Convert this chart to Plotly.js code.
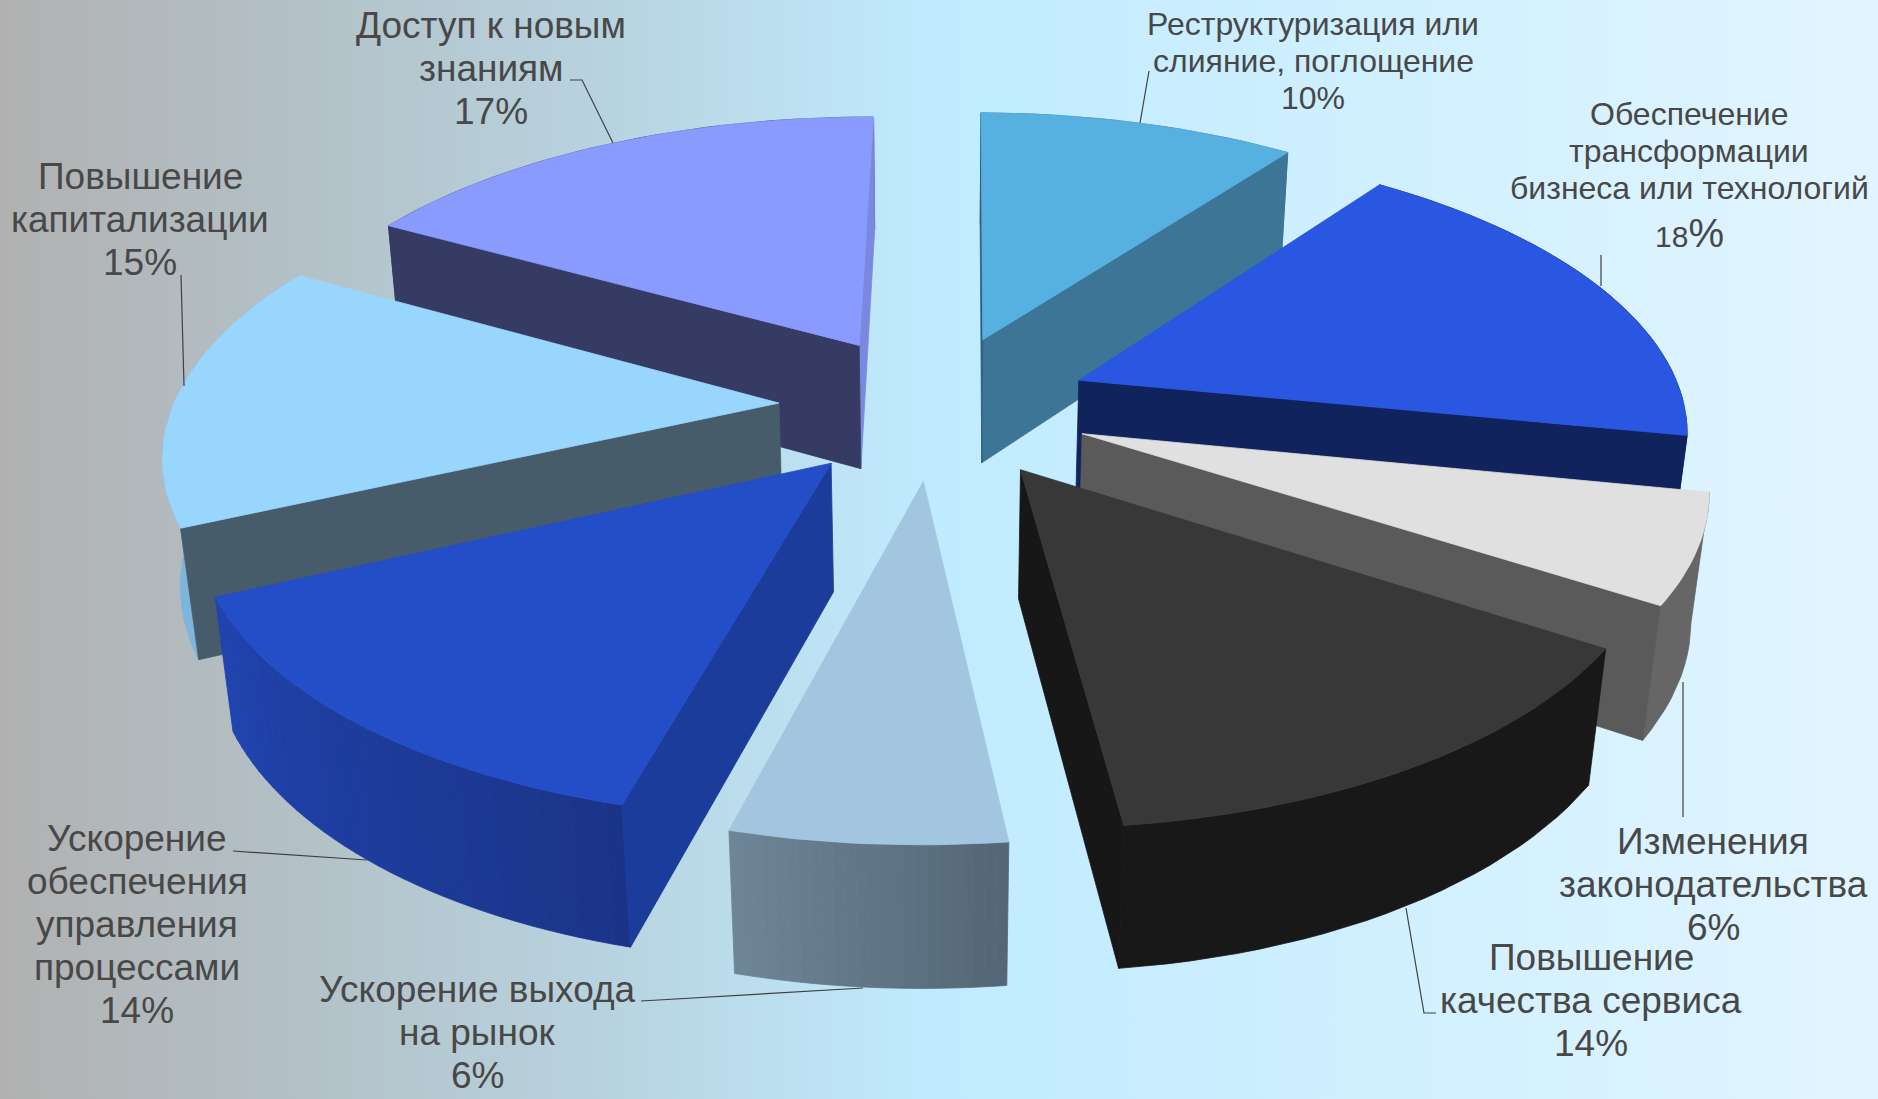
<!DOCTYPE html>
<html><head><meta charset="utf-8">
<script src="https://cdn.plot.ly/plotly-3.0.1.min.js"></script>
<style>
html,body{margin:0;padding:0;width:1878px;height:1099px;overflow:hidden}
body{background:linear-gradient(90deg,#b1b1b1 0px,#b3c1c7 300px,#b8d4e1 620px,#c0ebff 940px,#e2f5ff 1878px)}
#chart{width:1878px;height:1099px}
</style></head><body><div id="chart"></div>
<script>
// Data
const categories = [
  ["Реструктуризация или","слияние, поглощение"],
  ["Обеспечение","трансформации","бизнеса или технологий"],
  ["Изменения","законодательства"],
  ["Повышение","качества сервиса"],
  ["Ускорение выхода","на рынок"],
  ["Ускорение","обеспечения","управления","процессами"],
  ["Повышение","капитализации"],
  ["Доступ к новым","знаниям"]
];
const values = [10,18,6,14,6,14,15,17];
const valueLabels = ["10%",'<span style="font-size:30px">18</span><span style="font-size:40px">%</span>',"6%","14%","6%","14%","15%","17%"];

// Styles
const topColors  = ["#56b0e0","#2a57e1","#e0e0e0","#383838","#a2c6e0","#244dc8","#99d6fe","#8a9bff"];
const wallStart  = ["#2f5f7b","#11235c","#5a5a5a","#171717","#536675","#1c3c9c","#465c6b","#353b63"];
const wallEnd    = ["#3c7595","#11235c","#5a5a5a","#171717","#6e8698","#1c3c9c","#7db6da","#7a88e0"];
const arcFrom    = ["#3c7595","#11235c","#666666","#181818","#536675","#1a3488","#7db6da","#353b63"];
const arcTo      = ["#3c7595","#11235c","#666666","#181818","#6e8698","#2044b0","#7db6da","#353b63"];
const labelSizes = [32,32,37,37,37,37,37,37];
const lineSteps  = [37,37,43,43,43,43,43,43];
const labelX     = [1313,1689,1713,1591,477,137,140,491];
const labelTop   = [24,114,841,957,989,838,176,25];
const valueGap   = [0,8,0,0,0,0,0,0];
const leaders = [
  [[1149,71],[1140,123]],
  [[1601,255],[1601,286]],
  [[1683,682],[1683,817]],
  [[1406,908],[1424,1013],[1436,1013]],
  [[641,1001],[863,988]],
  [[233,851],[367,860]],
  [[181,275],[184,386]],
  [[570,80],[582,80],[613,143]]
];
const paintOrder = [7,0,1,6,2,5,3,4];

// Camera / pie geometry
const cam = {cx:935, cy:406, A:606, B:281, H:129, a:0.155, b:0.023, explode:0.258, rotation:0.5*Math.PI/180};
function project(X,Y,Z){
  const d = 1 + cam.a*Y + cam.b*Z;
  return [cam.cx + cam.A*X/d, cam.cy + (-cam.B*Y + cam.H*Z)/d];
}
function hex(c){return [1,3,5].map(i=>parseInt(c.substr(i,2),16));}
function mix(c1,c2,t){const a=hex(c1),b=hex(c2);
  return 'rgb('+a.map((v,i)=>Math.round(v+(b[i]-v)*t)).join(',')+')';}
function area(p){let s=0;p.forEach((q,i)=>{const r=p[(i+1)%p.length];s+=q[0]*r[1]-r[0]*q[1];});return s;}

const total = values.reduce((s,v)=>s+v,0);
const slices = []; let acc = 0;
values.forEach((v,i)=>{const t0=cam.rotation+acc/total*2*Math.PI; acc+=v; const t1=cam.rotation+acc/total*2*Math.PI;
  slices.push({i,t0,t1,mid:(t0+t1)/2});});

function poly(pts,color,name){
  const xs=pts.map(p=>p[0]),ys=pts.map(p=>p[1]);
  xs.push(xs[0]);ys.push(ys[0]);
  return {type:'scatter',mode:'lines',x:xs,y:ys,fill:'toself',fillcolor:color,
    line:{color:color,width:0.8},hoverinfo:name?'text':'skip',text:name||'',hoveron:'fills',showlegend:false};
}
const traces=[];
paintOrder.forEach(i=>{
  const s=slices[i];
  const ox=cam.explode*Math.sin(s.mid), oy=cam.explode*Math.cos(s.mid);
  const P=(th,z)=>project(ox+Math.sin(th),oy+Math.cos(th),z);
  const C=z=>project(ox,oy,z);
  const sweep=s.t1-s.t0;
  const flat=arcFrom[i]===arcTo[i];
  const n=flat?1:Math.max(24,Math.round(sweep*40));
  const sub=flat?Math.round(sweep*30):2;
  for(let k=0;k<n;k++){
    const a=s.t0+sweep*k/n,b=s.t0+sweep*(k+1)/n;
    const upper=[],lower=[];
    for(let j=0;j<=sub;j++){const t=a+(b-a)*j/sub;upper.push(P(t,0));lower.unshift(P(t,1));}
    traces.push(poly(upper.concat(lower),mix(arcFrom[i],arcTo[i],(k+.5)/n)));
  }
  // cut walls: only those facing the camera
  const w0=[C(0),P(s.t0,0),P(s.t0,1),C(1)], w1=[C(0),P(s.t1,0),P(s.t1,1),C(1)];
  if(area(w1)>0) traces.push(poly(w1,wallEnd[i]));
  if(area(w0)<0) traces.push(poly(w0,wallStart[i]));
  const top=[C(0)];
  const m=Math.max(16,Math.round(sweep*30));
  for(let k=0;k<=m;k++) top.push(P(s.t0+sweep*k/m,0));
  traces.push(poly(top,topColors[i],categories[i].join(' ')+' '+values[i]+'%'));
});

const annotations=[];
categories.forEach((lines,i)=>{
  lines.concat([valueLabels[i]]).forEach((t,k)=>{
    annotations.push({
      xref:'x',yref:'y',x:labelX[i],
      y:labelTop[i]+k*lineSteps[i]+(k===lines.length?valueGap[i]:0),
      xanchor:'center',yanchor:'middle',showarrow:false,align:'center',text:t,
      font:{family:'"Liberation Sans",Arial,sans-serif',size:labelSizes[i],color:'#484848'}
    });
  });
});
const shapes=leaders.map(l=>({type:'path',xref:'x',yref:'y',
  path:'M'+l.map(p=>p[0]+','+p[1]).join('L'),line:{color:'#404040',width:1.2}}));

Plotly.newPlot('chart',traces,{
  width:1878,height:1099,margin:{l:0,r:0,t:0,b:0},
  paper_bgcolor:'rgba(0,0,0,0)',plot_bgcolor:'rgba(0,0,0,0)',showlegend:false,
  xaxis:{range:[0,1878],visible:false,fixedrange:true},
  yaxis:{range:[1099,0],visible:false,fixedrange:true},
  annotations,shapes
},{displayModeBar:false});
</script></body></html>
